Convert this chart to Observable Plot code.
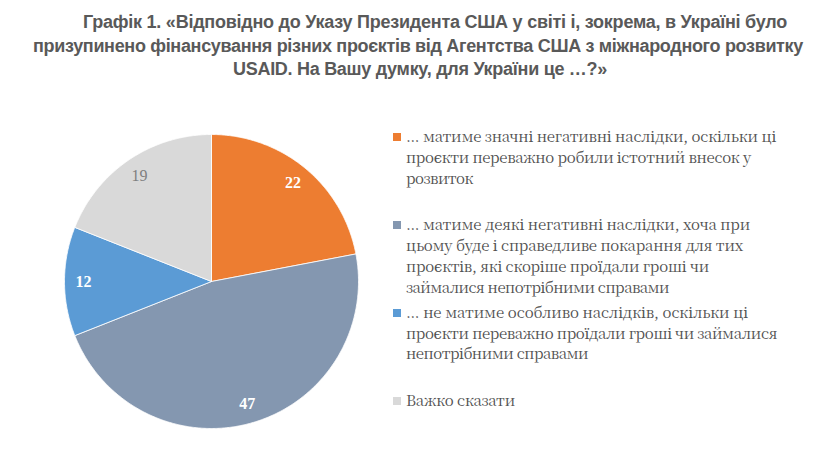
<!DOCTYPE html>
<html><head><meta charset="utf-8">
<script src="https://cdn.jsdelivr.net/npm/d3@7"></script>
<script src="https://cdn.jsdelivr.net/npm/@observablehq/plot@0.6"></script>
<style>
body{margin:0;background:#fff;width:825px;height:467px;position:relative;overflow:hidden}
.tl{position:absolute;font:bold 18px "Liberation Sans",Arial,sans-serif;line-height:23.5px;color:#595959;white-space:nowrap}
#chart{position:absolute;left:0;top:90px}
.item{position:absolute;left:393px;font:15px "Noto Serif CJK SC","DejaVu Serif",serif;line-height:20.7px;color:#505050;white-space:nowrap}
.sw{position:absolute;left:0;top:7px;width:8px;height:8px}
.tx{position:absolute;left:13px;top:0}
.tx span{display:inline-block}
</style>
</head><body>
<div id="title"></div>
<div id="chart"></div>
<div id="legend"></div>
<script>
const titleLines = [
  "Графік 1. «Відповідно до Указу Президента США у світі і, зокрема, в Україні було",
  "призупинено фінансування різних проєктів від Агентства США з міжнародного розвитку",
  "USAID. На Вашу думку, для України це …?»"
];
const legendLines = [
  ["… матиме значні негативні наслідки, оскільки ці", "проєкти переважно робили істотний внесок у", "розвиток"],
  ["… матиме деякі негативні наслідки, хоча при", "цьому буде і справедливе покарання для тих", "проєктів, які скоріше проїдали гроші чи", "займалися непотрібними справами"],
  ["… не матиме особливо наслідків, оскільки ці", "проєкти переважно проїдали гроші чи займалися", "непотрібними справами"],
  ["Важко сказати"]
];
const categories = legendLines.map(l => l.join(" "));
const values = [22, 47, 12, 19];
const colors = ["#ED7D31", "#8497B0", "#5B9BD5", "#D9D9D9"];
const labelColors = ["#ffffff", "#ffffff", "#ffffff", "#7f7f7f"];

const pie = d3.pie().sort(null).value(d => d.value).startAngle(0).endAngle(2 * Math.PI);
const slices = pie(categories.map((c, i) => ({category: c, value: values[i], i})));

const outline = [];
slices.forEach(s => {
  outline.push({category: s.data.category, x: 0, y: 0});
  const n = Math.max(2, Math.ceil((s.endAngle - s.startAngle) / (Math.PI / 360)));
  for (let k = 0; k <= n; k++) {
    const a = s.startAngle + (s.endAngle - s.startAngle) * k / n;
    outline.push({category: s.data.category, x: Math.sin(a), y: Math.cos(a)});
  }
  outline.push({category: s.data.category, x: 0, y: 0});
});
const labels = slices.map(s => {
  const a = (s.startAngle + s.endAngle) / 2;
  return {x: 0.87 * Math.sin(a), y: 0.87 * Math.cos(a), text: String(s.data.value), i: s.data.i};
});

const chart = Plot.plot({
  width: 380, height: 377,
  marginLeft: 64, marginRight: 22, marginTop: 44, marginBottom: 39,
  x: {domain: [-1, 1], axis: null},
  y: {domain: [-1, 1], axis: null},
  color: {domain: categories, range: colors},
  marks: [
    Plot.line(outline, {x: "x", y: "y", z: "category", fill: "category", stroke: "#ffffff", strokeWidth: 1, strokeOpacity: 0.8, curve: "linear"}),
    Plot.text(labels.filter(d => d.i < 3), {x: "x", y: "y", text: "text", fill: "#ffffff", fontWeight: "bold", fontSize: 16, fontFamily: "Liberation Serif, DejaVu Serif, serif"}),
    Plot.text(labels.filter(d => d.i === 3), {x: "x", y: "y", text: "text", fill: labelColors[3], fontSize: 16, fontFamily: "Liberation Serif, DejaVu Serif, serif"})
  ]
});
document.getElementById("chart").appendChild(chart);

// fit a line of text to a target width using letter-spacing
function fit(el, target) {
  const w = el.getBoundingClientRect().width;
  const n = el.textContent.length;
  if (n > 1) el.style.letterSpacing = ((target - w) / n) + "px";
}

// title lines
const titleBox = document.getElementById("title");
const titleLeft = [83, 33, 233], titleWidth = [704, 770, 374], titleTop = [11.4, 34.9, 58.4];
titleLines.forEach((t, i) => {
  const d = document.createElement("div");
  d.className = "tl";
  d.textContent = t;
  d.style.left = titleLeft[i] + "px";
  d.style.top = titleTop[i] + "px";
  titleBox.appendChild(d);
  fit(d, titleWidth[i]);
});

// legend
const tops = [126.2, 214.4, 302, 390.4];
const widths = [[370, 345, 67], [344, 337, 303, 263], [342, 371, 182], [109]];
const legend = document.getElementById("legend");
legendLines.forEach((lines, i) => {
  const it = document.createElement("div");
  it.className = "item";
  it.style.top = tops[i] + "px";
  it.innerHTML = `<div class="sw" style="background:${colors[i]}"></div><div class="tx">${lines.map(l => `<span>${l}</span>`).join("<br>")}</div>`;
  legend.appendChild(it);
  it.querySelectorAll("span").forEach((sp, j) => fit(sp, widths[i][j]));
});
</script>
</body></html>
